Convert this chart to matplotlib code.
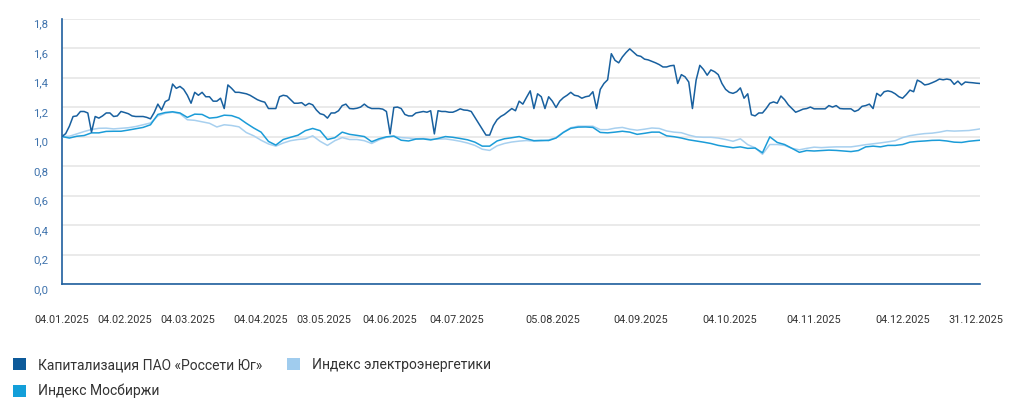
import numpy as np
import matplotlib
matplotlib.use("Agg")
import matplotlib.pyplot as plt
from matplotlib.patches import Patch
from matplotlib.transforms import ScaledTranslation

# Капитализация ПАО «Россети Юг» (нормировано к 04.01.2025), по торговым дням
rosseti = [
    1.00, 1.02, 1.07, 1.136, 1.14, 1.17, 1.17, 1.16, 1.03, 1.136,
    1.125, 1.14, 1.16, 1.16, 1.136, 1.14, 1.17, 1.163, 1.155, 1.14,
    1.136, 1.136, 1.136, 1.13, 1.12, 1.163, 1.22, 1.18, 1.237, 1.25,
    1.356, 1.327, 1.34, 1.32, 1.28, 1.226, 1.30, 1.28, 1.30, 1.27,
    1.27, 1.24, 1.24, 1.26, 1.19, 1.35, 1.327, 1.30, 1.30, 1.295,
    1.29, 1.28, 1.265, 1.25, 1.24, 1.233, 1.19, 1.19, 1.19, 1.27,
    1.28, 1.275, 1.25, 1.226, 1.226, 1.23, 1.21, 1.225, 1.215, 1.18,
    1.155, 1.148, 1.125, 1.16, 1.16, 1.175, 1.21, 1.22, 1.19, 1.188,
    1.192, 1.20, 1.22, 1.20, 1.19, 1.19, 1.19, 1.186, 1.17, 1.018,
    1.197, 1.20, 1.19, 1.15, 1.14, 1.14, 1.16, 1.165, 1.17, 1.165,
    1.175, 1.018, 1.175, 1.17, 1.17, 1.165, 1.165, 1.175, 1.188, 1.18,
    1.178, 1.17, 1.13, 1.09, 1.05, 1.01, 1.01, 1.074, 1.114, 1.136,
    1.15, 1.17, 1.19, 1.175, 1.24, 1.22, 1.266, 1.31, 1.19, 1.29,
    1.27, 1.19, 1.27, 1.24, 1.197, 1.24, 1.264, 1.28, 1.30, 1.28,
    1.275, 1.26, 1.27, 1.275, 1.304, 1.19, 1.32, 1.36, 1.385, 1.562,
    1.517, 1.50, 1.54, 1.57, 1.595, 1.573, 1.55, 1.544, 1.525, 1.52,
    1.51, 1.50, 1.488, 1.472, 1.472, 1.48, 1.483, 1.36, 1.42, 1.405,
    1.37, 1.19, 1.383, 1.483, 1.455, 1.416, 1.452, 1.44, 1.42, 1.36,
    1.32, 1.30, 1.293, 1.304, 1.33, 1.26, 1.29, 1.148, 1.14, 1.16,
    1.16, 1.19, 1.226, 1.235, 1.226, 1.275, 1.25, 1.215, 1.19, 1.165,
    1.175, 1.186, 1.19, 1.20, 1.188, 1.188, 1.188, 1.188, 1.21, 1.20,
    1.21, 1.19, 1.188, 1.188, 1.188, 1.17, 1.18, 1.205, 1.21, 1.22,
    1.19, 1.293, 1.275, 1.304, 1.31, 1.304, 1.29, 1.27, 1.26, 1.285,
    1.315, 1.304, 1.383, 1.37, 1.35, 1.355, 1.365, 1.376, 1.39, 1.385,
    1.39, 1.385, 1.354, 1.376, 1.35, 1.37, 1.367, 1.365, 1.362, 1.36,
]

# индексы, каждый второй торговый день
idx_days = list(range(0, 249, 2)) + [249]

moex = [
    1.00, 0.99, 1.002, 1.007, 1.025, 1.025, 1.035, 1.036, 1.036, 1.044,
    1.053, 1.062, 1.08, 1.15, 1.163, 1.168, 1.16, 1.13, 1.152, 1.15,
    1.125, 1.13, 1.145, 1.142, 1.125, 1.09, 1.058, 1.03, 0.967, 0.942,
    0.98, 0.995, 1.009, 1.04, 1.055, 1.04, 0.98, 0.992, 1.03, 1.015,
    1.008, 1.0, 0.965, 0.985, 0.998, 1.003, 0.975, 0.97, 0.983, 0.984,
    0.977, 0.987, 1.0, 0.995, 0.987, 0.978, 0.962, 0.935, 0.935, 0.97,
    0.985, 0.992, 1.0, 0.985, 0.972, 0.974, 0.973, 0.99, 1.028, 1.056,
    1.064, 1.065, 1.062, 1.028, 1.025, 1.03, 1.036, 1.03, 1.015, 1.022,
    1.03, 1.03, 1.005, 0.999, 0.99, 0.978, 0.97, 0.962, 0.953, 0.94,
    0.932, 0.924, 0.93, 0.92, 0.922, 0.89, 0.998, 0.96, 0.946, 0.92,
    0.893, 0.905, 0.902, 0.905, 0.908, 0.906, 0.902, 0.898, 0.905, 0.93,
    0.935, 0.93, 0.94, 0.94, 0.946, 0.962, 0.967, 0.97, 0.974, 0.975,
    0.97, 0.962, 0.96, 0.968, 0.973, 0.975,
]

energy = [
    1.00, 1.002, 1.018, 1.034, 1.048, 1.056, 1.057, 1.052, 1.056, 1.06,
    1.068, 1.08, 1.092, 1.14, 1.158, 1.165, 1.155, 1.114, 1.11, 1.10,
    1.09, 1.065, 1.08, 1.075, 1.066, 1.027, 1.005, 0.975, 0.95, 0.935,
    0.956, 0.972, 0.98, 0.985, 1.005, 0.968, 0.94, 0.972, 0.993, 0.98,
    0.98, 0.972, 0.953, 0.978, 0.995, 1.003, 0.993, 0.99, 0.985, 0.987,
    0.982, 0.983, 0.984, 0.977, 0.968, 0.956, 0.94, 0.914, 0.906, 0.937,
    0.953, 0.963, 0.969, 0.973, 0.969, 0.97, 0.977, 0.993, 1.03, 1.06,
    1.07, 1.07, 1.07, 1.047, 1.047, 1.057, 1.062, 1.05, 1.043, 1.05,
    1.058, 1.055, 1.038, 1.03, 1.026, 1.01, 0.998, 0.995, 0.995, 0.99,
    0.98, 0.968, 0.985, 0.945, 0.924, 0.88, 0.946, 0.946, 0.94, 0.92,
    0.91, 0.92, 0.928, 0.925, 0.928, 0.93, 0.93, 0.93, 0.937, 0.945,
    0.951, 0.957, 0.964, 0.972, 0.993, 1.006, 1.014, 1.02, 1.023, 1.03,
    1.04, 1.037, 1.039, 1.041, 1.048, 1.052,
]

tick_days = [0, 17, 34, 54, 71, 89, 107, 133, 157, 181, 204, 228, 248]
tick_labels = ['04.01.2025', '04.02.2025', '04.03.2025', '04.04.2025', '03.05.2025',
               '04.06.2025', '04.07.2025', '05.08.2025', '04.09.2025', '04.10.2025',
               '04.11.2025', '04.12.2025', '31.12.2025']

names = ['Капитализация ПАО «Россети Юг»', 'Индекс Мосбиржи', 'Индекс электроэнергетики']
c_dark = '#18609f'
c_mid = '#1b9cd8'
c_light = '#a8d0ef'

# узких шрифтов нет, Roboto самый компактный из доступных
plt.rcParams['font.family'] = ['Roboto', 'DejaVu Sans']

fig = plt.figure(figsize=(10.21, 4.18), dpi=100)
ax = fig.add_axes([62 / 1021, 134 / 418, 918 / 1021, 265.4 / 418])

days = np.arange(len(rosseti))
ax.plot(idx_days, energy, color=c_light, lw=1.1, zorder=3)
ax.plot(idx_days, moex, color=c_mid, lw=1.1, zorder=4)
ax.plot(days, rosseti, color=c_dark, lw=1.1, zorder=5)

ax.set_xlim(0, 249)
ax.set_ylim(0, 1.8)
ax.set_yticks(np.arange(0, 1.81, 0.2))
ax.set_yticklabels([f'{v:.1f}'.replace('.', ',') for v in np.arange(0, 1.81, 0.2)])
ax.set_xticks(tick_days)
ax.set_xticklabels(tick_labels)
ax.grid(axis='y', color='#e6e6e6', lw=1.2, zorder=0)
ax.set_axisbelow(True)

for s in ['top', 'right']:
    ax.spines[s].set_visible(False)
for s in ['left', 'bottom']:
    ax.spines[s].set_color('#1f5f9e')
    ax.spines[s].set_linewidth(1.2)

ax.tick_params(axis='x', length=0, pad=22, labelsize=7.8, labelcolor='#333333')
ax.tick_params(axis='y', length=0, pad=10, labelsize=8.2, labelcolor='#3f73ad')
shift = ScaledTranslation(0, -5 / 100, fig.dpi_scale_trans)
for lab in ax.get_yticklabels():
    lab.set_transform(lab.get_transform() + shift)

handles = [Patch(facecolor='#0d5a9a', edgecolor='none'),
           Patch(facecolor='#139fd9', edgecolor='none'),
           Patch(facecolor='#a0ccee', edgecolor='none')]
fig.legend(handles, names, loc='upper left', bbox_to_anchor=(13 / 1021, 1 - 358 / 418),
           ncol=2, frameon=False, fontsize=10, handlelength=0.95, handleheight=0.95,
           handletextpad=0.85, columnspacing=1.8, labelspacing=0.85, borderpad=0,
           borderaxespad=0, labelcolor='#333333')

fig.savefig('out.png', dpi=100)
